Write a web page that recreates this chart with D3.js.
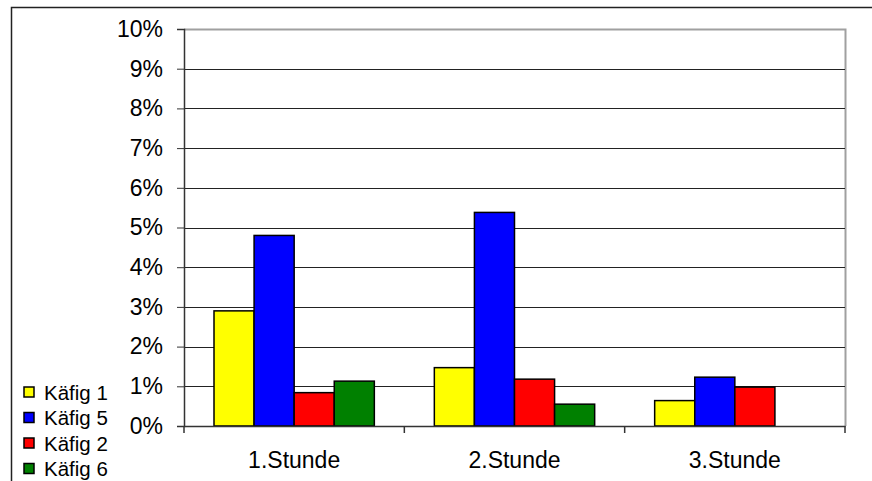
<!DOCTYPE html>
<html>
<head>
<meta charset="utf-8">
<script src="https://cdn.jsdelivr.net/npm/d3@7"></script>
<style>
  body { margin: 0; background: #fff; }
  svg text { font-family: "Liberation Sans", Arial, sans-serif; fill: #000; }
</style>
</head>
<body>
<svg id="chart" width="872" height="481"></svg>
<script>
// chart data
var categories = ['1.Stunde', '2.Stunde', '3.Stunde'];
var seriesNames = ['Käfig 1', 'Käfig 5', 'Käfig 2', 'Käfig 6'];
var seriesColors = ['#ffff00', '#0000ff', '#ff0000', '#008000'];
var kaefig1 = [2.9, 1.47, 0.64];
var kaefig5 = [4.8, 5.38, 1.23];
var kaefig2 = [0.84, 1.18, 0.98];
var kaefig6 = [1.13, 0.55, 0];
var yTicks = [0, 1, 2, 3, 4, 5, 6, 7, 8, 9, 10];

var seriesValues = [kaefig1, kaefig5, kaefig2, kaefig6];

var svg = d3.select('#chart'),
  margin = {top: 29, right: 27, bottom: 55, left: 184},
  width = +svg.attr('width') - margin.left - margin.right,
  height = +svg.attr('height') - margin.top - margin.bottom;

// outer frame of the chart object
svg.append('rect')
  .attr('x', 11.5).attr('y', 7.5)
  .attr('width', 872).attr('height', 500)
  .attr('fill', 'none')
  .attr('stroke', '#222')
  .attr('stroke-width', 1.5);

var g = svg.append('g')
  .attr('transform', 'translate(' + margin.left + ',' + margin.top + ')');

var x0 = d3.scaleBand().domain(categories).range([0, width]).paddingInner(0).paddingOuter(0);
var x1 = d3.scaleBand().domain(d3.range(seriesNames.length))
  .range([30, x0.bandwidth() - 30]).padding(0);
var y = d3.scaleLinear().domain([0, 10]).range([height, 0]);

// plot area border (top and right)
g.append('path')
  .attr('d', 'M0,0.5H' + (width + 0.5) + 'V' + height)
  .attr('fill', 'none')
  .attr('stroke', '#a0a0a0')
  .attr('stroke-width', 2);

// gridlines
g.selectAll('.grid')
  .data(yTicks.filter(function(d) { return d > 0 && d < 10; }))
  .enter()
  .append('line')
    .attr('class', 'grid')
    .attr('x1', 0).attr('x2', width)
    .attr('y1', function(d) { return Math.round(y(d)) + 0.5; })
    .attr('y2', function(d) { return Math.round(y(d)) + 0.5; })
    .attr('stroke', '#222')
    .attr('stroke-width', 1);

// bars
var groups = g.selectAll('.cat')
  .data(categories)
  .enter()
  .append('g')
    .attr('class', 'cat')
    .attr('transform', function(d) { return 'translate(' + x0(d) + ',0)'; });

groups.selectAll('rect')
  .data(function(c, ci) {
    return seriesValues.map(function(vals, si) { return {s: si, value: vals[ci]}; })
      .filter(function(d) { return d.value > 0; });
  })
  .enter()
  .append('rect')
    .attr('x', function(d) { return x1(d.s); })
    .attr('y', function(d) { return y(d.value); })
    .attr('width', x1.bandwidth())
    .attr('height', function(d) { return height - y(d.value); })
    .attr('fill', function(d) { return seriesColors[d.s]; })
    .attr('stroke', '#000')
    .attr('stroke-width', 1.5);

// Y axis
var yAxis = g.append('g')
  .call(d3.axisLeft(y).tickValues(yTicks).tickSize(7).tickPadding(14)
    .tickFormat(function(d) { return d + '%'; }));
yAxis.select('.domain').attr('stroke', '#333').attr('stroke-width', 1.5);
yAxis.selectAll('.tick line').attr('stroke', '#333');
yAxis.selectAll('text').attr('font-size', '23px').attr('fill', '#000')
  .style('font-family', '"Liberation Sans", Arial, sans-serif');

// X axis
var xAxis = g.append('g')
  .attr('transform', 'translate(0,' + height + ')')
  .call(d3.axisBottom(x0).tickSize(0).tickPadding(26));
xAxis.select('.domain').attr('stroke', '#333').attr('stroke-width', 1.5);
xAxis.selectAll('text').attr('font-size', '23px').attr('fill', '#000')
  .style('font-family', '"Liberation Sans", Arial, sans-serif');
// category separator ticks
xAxis.selectAll('.sep')
  .data(d3.range(categories.length + 1))
  .enter()
  .append('line')
    .attr('class', 'sep')
    .attr('x1', function(i) { return i * x0.step(); })
    .attr('x2', function(i) { return i * x0.step(); })
    .attr('y1', 0).attr('y2', 7)
    .attr('stroke', '#333')
    .attr('stroke-width', 1.5);

// legend
var legend = svg.append('g')
  .attr('transform', 'translate(24,387)');
var items = legend.selectAll('.item')
  .data(seriesNames)
  .enter()
  .append('g')
    .attr('class', 'item')
    .attr('transform', function(d, i) { return 'translate(0,' + (i * 25.5) + ')'; });
items.append('rect')
  .attr('width', 10).attr('height', 10)
  .attr('fill', function(d, i) { return seriesColors[i]; })
  .attr('stroke', '#000')
  .attr('stroke-width', 1.5);
items.append('text')
  .attr('x', 20).attr('y', 12.5)
  .attr('font-size', '20.5px')
  .text(function(d) { return d; });
</script>
</body>
</html>
